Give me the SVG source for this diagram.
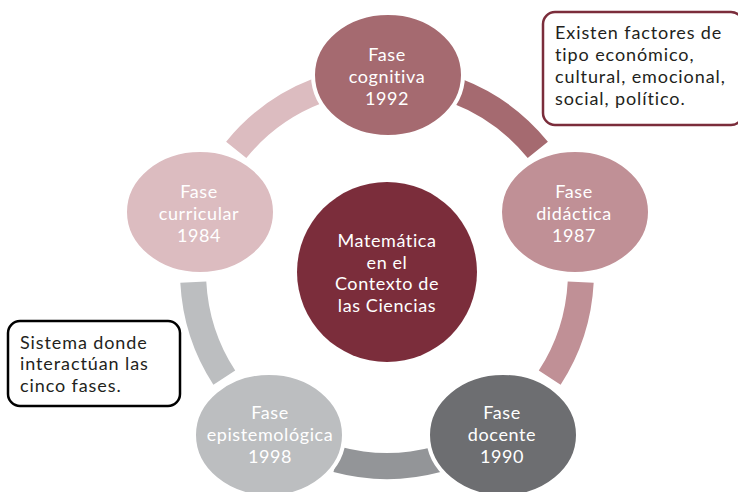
<svg xmlns="http://www.w3.org/2000/svg" width="738" height="492" viewBox="0 0 738 492">
<style>
.arc{fill:none;stroke-width:26;stroke-linecap:butt}
.node{stroke:#ffffff;stroke-width:4}
.nt{font-family:Lato,"Open Sans",sans-serif;font-size:18px;letter-spacing:0.6px;fill:#ffffff;text-anchor:middle}
.bt{font-family:Lato,"Open Sans",sans-serif;font-size:18px;letter-spacing:0.9px;fill:#231f20}
</style>
<rect width="738" height="492" fill="#ffffff"/>
<g id="connectors">
<path class="arc" stroke="#a56a70" d="M456.5,90.9 A194,194 0 0 1 537.8,149.9"/>
<path class="arc" stroke="#c09096" d="M580.7,282.1 A194,194 0 0 1 549.7,377.7"/>
<path class="arc" stroke="#939598" d="M437.2,459.4 A194,194 0 0 1 336.8,459.4"/>
<path class="arc" stroke="#bcbec0" d="M224.3,377.7 A194,194 0 0 1 193.3,282.1"/>
<path class="arc" stroke="#dcbcc0" d="M236.2,149.9 A194,194 0 0 1 317.5,90.9"/>
</g>
<g id="center">
<circle cx="387" cy="272" r="90" fill="#7b2d3b"/>
<text class="nt" x="387" y="247">Matemática</text>
<text class="nt" x="387" y="268.6">en el</text>
<text class="nt" x="387" y="290.2">Contexto de</text>
<text class="nt" x="387" y="311.8">las Ciencias</text>
</g>
<g id="cognitiva">
<ellipse class="node" cx="388" cy="75" rx="75" ry="62" fill="#a56a70"/>
<text class="nt" x="387" y="61.4">Fase</text>
<text class="nt" x="387" y="83">cognitiva</text>
<text class="nt" x="387" y="104.6">1992</text>
</g>
<g id="didactica">
<ellipse class="node" cx="575" cy="212" rx="75" ry="62" fill="#c09096"/>
<text class="nt" x="574" y="198.4">Fase</text>
<text class="nt" x="574" y="220">didáctica</text>
<text class="nt" x="574" y="241.6">1987</text>
</g>
<g id="docente">
<ellipse class="node" cx="503" cy="435" rx="75" ry="62" fill="#6d6e71"/>
<text class="nt" x="502" y="419.4">Fase</text>
<text class="nt" x="502" y="441">docente</text>
<text class="nt" x="502" y="462.6">1990</text>
</g>
<g id="epistemologica">
<ellipse class="node" cx="269" cy="435" rx="75" ry="62" fill="#bcbec0"/>
<text class="nt" x="270" y="419.4">Fase</text>
<text class="nt" x="270" y="441">epistemológica</text>
<text class="nt" x="270" y="462.6">1998</text>
</g>
<g id="curricular">
<ellipse class="node" cx="200" cy="212" rx="75" ry="62" fill="#dcbcc0"/>
<text class="nt" x="199" y="198.4">Fase</text>
<text class="nt" x="199" y="220">curricular</text>
<text class="nt" x="199" y="241.6">1984</text>
</g>
<g id="note-right">
<rect x="543" y="12" width="200" height="113" rx="12" fill="#ffffff" stroke="#7b2d3b" stroke-width="2.5"/>
<text class="bt" x="555" y="39">Existen factores de</text>
<text class="bt" x="555" y="61">tipo económico,</text>
<text class="bt" x="555" y="83">cultural, emocional,</text>
<text class="bt" x="555" y="105">social, político.</text>
</g>
<g id="note-left">
<rect x="8" y="321" width="172" height="85" rx="12" fill="#ffffff" stroke="#000000" stroke-width="2.5"/>
<text class="bt" x="20" y="348.5">Sistema donde</text>
<text class="bt" x="20" y="370.3">interactúan las</text>
<text class="bt" x="20" y="392.1">cinco fases.</text>
</g>
</svg>
